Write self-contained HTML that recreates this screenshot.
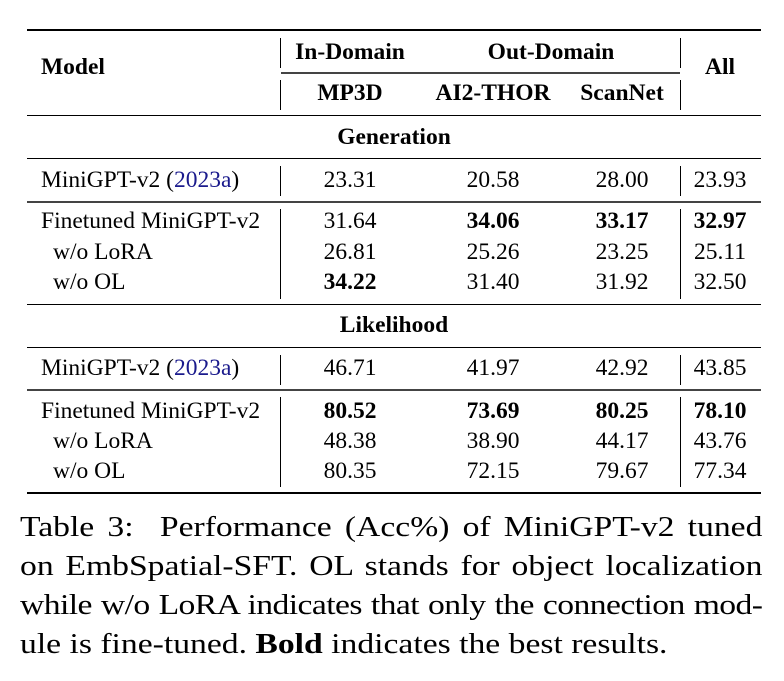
<!DOCTYPE html>
<html><head><meta charset="utf-8">
<style>
body{margin:0;background:#fff;width:784px;height:681px;position:relative;overflow:hidden;font-family:"Liberation Serif",serif;color:#000}
.t{position:absolute;font-size:23.5px;line-height:26px;white-space:nowrap}
.c{text-align:center;width:140px;margin-left:-70px}
.b{font-weight:bold}
.h{position:absolute;background:#000;height:1px}
.v{position:absolute;background:#000;width:1px}
.cl{position:absolute;left:20px;width:640px;font-size:29px;line-height:34px;text-align:justify;text-align-last:justify;white-space:nowrap;transform:scaleX(1.16);transform-origin:0 0}
.cl.l{text-align-last:left}
a{color:#1a1a8c;text-decoration:none}
</style></head><body>
<div class="h" style="left:27px;width:734px;top:29px;height:2px"></div>
<div class="h" style="left:281px;width:399px;top:72px;height:1.5px;background:#444"></div>
<div class="h" style="left:27px;width:734px;top:115px"></div>
<div class="h" style="left:27px;width:734px;top:158px"></div>
<div class="h" style="left:27px;width:734px;top:201px;height:1.5px;background:#444"></div>
<div class="h" style="left:27px;width:734px;top:304px"></div>
<div class="h" style="left:27px;width:734px;top:347px"></div>
<div class="h" style="left:27px;width:734px;top:389px;height:1.5px;background:#444"></div>
<div class="h" style="left:27px;width:734px;top:492px;height:2px"></div>

<div class="v" style="left:280px;top:38px;height:30px"></div>
<div class="v" style="left:680px;top:38px;height:30px"></div>
<div class="v" style="left:280px;top:80px;height:30px"></div>
<div class="v" style="left:680px;top:80px;height:30px"></div>
<div class="v" style="left:280px;top:166px;height:30px"></div>
<div class="v" style="left:680px;top:166px;height:30px"></div>
<div class="v" style="left:280px;top:209px;height:90px"></div>
<div class="v" style="left:680px;top:209px;height:90px"></div>
<div class="v" style="left:280px;top:355px;height:30px"></div>
<div class="v" style="left:680px;top:355px;height:30px"></div>
<div class="v" style="left:280px;top:397px;height:90px"></div>
<div class="v" style="left:680px;top:397px;height:90px"></div>

<div class="t b" style="left:41px;top:54px">Model</div>
<div class="t b c" style="left:350px;top:39px">In-Domain</div>
<div class="t b c" style="left:551px;top:39px">Out-Domain</div>
<div class="t b c" style="left:720px;top:54px">All</div>
<div class="t b c" style="left:350px;top:80px">MP3D</div>
<div class="t b c" style="left:493px;top:80px">AI2-THOR</div>
<div class="t b c" style="left:622px;top:80px">ScanNet</div>

<div class="t b c" style="left:394px;top:124px">Generation</div>
<div class="t" style="left:41px;top:167px">MiniGPT-v2 (<a>2023a</a>)</div>
<div class="t c" style="left:350px;top:167px">23.31</div>
<div class="t c" style="left:493px;top:167px">20.58</div>
<div class="t c" style="left:622px;top:167px">28.00</div>
<div class="t c" style="left:720px;top:167px">23.93</div>

<div class="t" style="left:41px;top:208px">Finetuned MiniGPT-v2</div>
<div class="t c" style="left:350px;top:208px">31.64</div>
<div class="t c b" style="left:493px;top:208px">34.06</div>
<div class="t c b" style="left:622px;top:208px">33.17</div>
<div class="t c b" style="left:720px;top:208px">32.97</div>
<div class="t" style="left:53px;top:239px">w/o LoRA</div>
<div class="t c" style="left:350px;top:239px">26.81</div>
<div class="t c" style="left:493px;top:239px">25.26</div>
<div class="t c" style="left:622px;top:239px">23.25</div>
<div class="t c" style="left:720px;top:239px">25.11</div>
<div class="t" style="left:53px;top:269px">w/o OL</div>
<div class="t c b" style="left:350px;top:269px">34.22</div>
<div class="t c" style="left:493px;top:269px">31.40</div>
<div class="t c" style="left:622px;top:269px">31.92</div>
<div class="t c" style="left:720px;top:269px">32.50</div>

<div class="t b c" style="left:394px;top:312px">Likelihood</div>
<div class="t" style="left:41px;top:355px">MiniGPT-v2 (<a>2023a</a>)</div>
<div class="t c" style="left:350px;top:355px">46.71</div>
<div class="t c" style="left:493px;top:355px">41.97</div>
<div class="t c" style="left:622px;top:355px">42.92</div>
<div class="t c" style="left:720px;top:355px">43.85</div>

<div class="t" style="left:41px;top:398px">Finetuned MiniGPT-v2</div>
<div class="t c b" style="left:350px;top:398px">80.52</div>
<div class="t c b" style="left:493px;top:398px">73.69</div>
<div class="t c b" style="left:622px;top:398px">80.25</div>
<div class="t c b" style="left:720px;top:398px">78.10</div>
<div class="t" style="left:53px;top:428px">w/o LoRA</div>
<div class="t c" style="left:350px;top:428px">48.38</div>
<div class="t c" style="left:493px;top:428px">38.90</div>
<div class="t c" style="left:622px;top:428px">44.17</div>
<div class="t c" style="left:720px;top:428px">43.76</div>
<div class="t" style="left:53px;top:458px">w/o OL</div>
<div class="t c" style="left:350px;top:458px">80.35</div>
<div class="t c" style="left:493px;top:458px">72.15</div>
<div class="t c" style="left:622px;top:458px">79.67</div>
<div class="t c" style="left:720px;top:458px">77.34</div>

<div>
<div class="cl" style="top:510px">Table 3:&nbsp; Performance (Acc%) of MiniGPT-v2 tuned</div>
<div class="cl" style="top:549px">on EmbSpatial-SFT. OL stands for object localization</div>
<div class="cl" style="top:588px;letter-spacing:-0.5px">while w/o LoRA indicates that only the connection mod-</div>
<div class="cl l" style="top:627px">ule is fine-tuned. <b>Bold</b> indicates the best results.</div>
</div>
</body></html>
